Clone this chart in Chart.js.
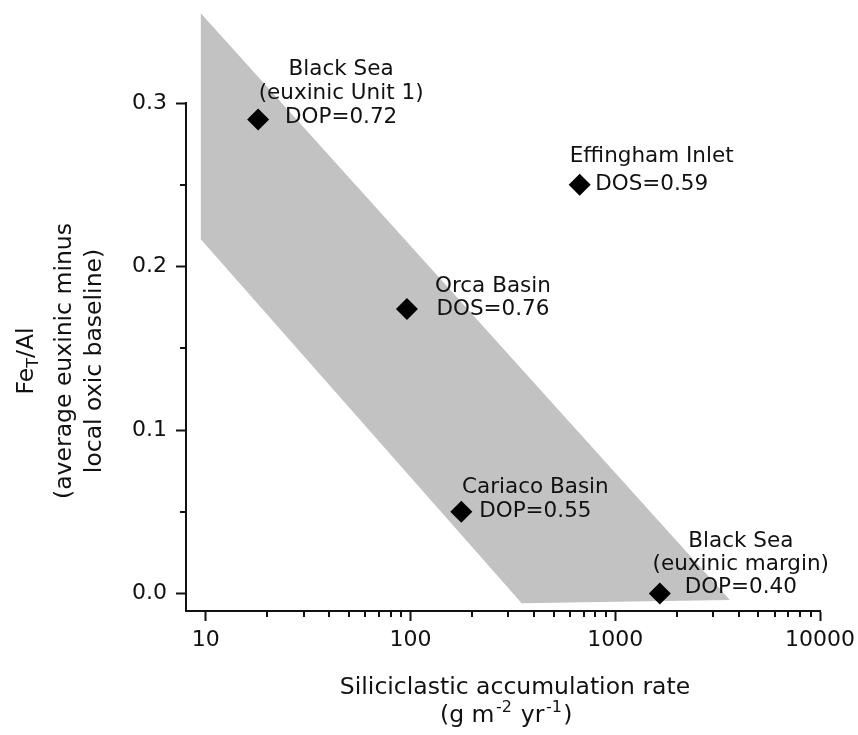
<!DOCTYPE html>
<html><head><meta charset="utf-8">
<script src="https://cdn.jsdelivr.net/npm/chart.js@4.4.1/dist/chart.umd.min.js"></script>
<style>html,body{margin:0;padding:0;background:#fff;}</style>
</head><body>
<canvas id="c" width="858" height="735"></canvas>
<script>
// ---- data ----
const siteNames = ['Black Sea (euxinic Unit 1)', 'Effingham Inlet', 'Orca Basin', 'Cariaco Basin', 'Black Sea (euxinic margin)'];
const accumulationRate = [18, 670, 96, 177, 1650];
const feAlExcess = [0.29, 0.25, 0.174, 0.05, 0.0];
const siteLabels = [
  ['Black Sea', '(euxinic Unit 1)', 'DOP=0.72'],
  ['Effingham Inlet', 'DOS=0.59'],
  ['Orca Basin', 'DOS=0.76'],
  ['Cariaco Basin', 'DOP=0.55'],
  ['Black Sea', '(euxinic margin)', 'DOP=0.40']
];
const bandRate = [3630, 349, 9.4, 9.45];
const bandFeAl = [-0.004, -0.006, 0.217, 0.355];
const xMajorTicks = [10, 100, 1000, 10000];
const xMinorTicks = [20, 30, 40, 50, 60, 70, 80, 90, 200, 300, 400, 500, 600, 700, 800, 900, 2000, 3000, 4000, 5000, 6000, 7000, 8000, 9000];
const yMajorTicks = [0, 0.1, 0.2, 0.3];
const yMinorTicks = [0.05, 0.15, 0.25];
const xTitle = ['Siliciclastic accumulation rate', ['(g m', '-2', ' yr', '-1', ')']];
const yTitle = [['Fe', 'T', '/Al'], '(average euxinic minus', 'local oxic baseline)'];

// ---- layout / style (not data) ----
const INK = '#111';
const FONT = '"DejaVu Sans", sans-serif';
const labelLayout = [
  {dx: 83, lastDy: -2, gap: 24},
  {dx: 72, lastDy: 0, gap: 28},
  {dx: 86, lastDy: 0, gap: 23},
  {dx: 74, lastDy: 0, gap: 24},
  {dx: 81, lastDy: -6, gap: 23}
];

const pointData = accumulationRate.map((v, i) => ({x: v, y: feAlExcess[i]}));
const bandData = bandRate.map((v, i) => ({x: v, y: bandFeAl[i]}));

const decor = {
  id: 'decor',
  afterDatasetsDraw(chart) {
    const {ctx, scales: {x, y}} = chart;
    ctx.save();
    ctx.fillStyle = INK;
    ctx.font = '21.5px ' + FONT;
    ctx.textAlign = 'center';
    ctx.textBaseline = 'middle';
    siteLabels.forEach((lines, i) => {
      const px = x.getPixelForValue(accumulationRate[i]);
      const py = y.getPixelForValue(feAlExcess[i]);
      const L = labelLayout[i];
      const n = lines.length;
      lines.forEach((t, j) => {
        ctx.fillText(t, px + L.dx, py + L.lastDy - (n - 1 - j) * L.gap);
      });
    });
    ctx.restore();
  },
  afterDraw(chart) {
    const {ctx, scales: {x, y}, chartArea} = chart;
    ctx.save();
    ctx.strokeStyle = INK;
    ctx.lineWidth = 2;
    const yTop = Math.round(y.getPixelForValue(yMajorTicks[yMajorTicks.length - 1]));
    ctx.beginPath();
    ctx.moveTo(chartArea.left, yTop - 1);
    ctx.lineTo(chartArea.left, chartArea.bottom + 1);
    ctx.stroke();
    ctx.beginPath();
    xMinorTicks.forEach(v => {
      const px = Math.round(x.getPixelForValue(v));
      ctx.moveTo(px, chartArea.bottom);
      ctx.lineTo(px, chartArea.bottom + 6);
    });
    yMinorTicks.forEach(v => {
      const py = Math.round(y.getPixelForValue(v));
      ctx.moveTo(chartArea.left, py);
      ctx.lineTo(chartArea.left - 6, py);
    });
    ctx.stroke();

    ctx.fillStyle = INK;
    const big = '23.5px ' + FONT, small = '16px ' + FONT;
    ctx.textBaseline = 'middle';
    ctx.textAlign = 'center';
    ctx.font = big;
    ctx.fillText(xTitle[0], 515, 688);
    const parts = xTitle[1];
    const widths = parts.map((p, k) => { ctx.font = (k % 2 === 1) ? small : big; return ctx.measureText(p).width + 1.5; });
    const w = widths.reduce((a, b) => a + b, 0);
    let sx = 507 - w / 2;
    ctx.textAlign = 'left';
    ctx.textBaseline = 'alphabetic';
    const base2 = 722;
    parts.forEach((p, k) => {
      const sup = k % 2 === 1;
      ctx.font = sup ? small : big;
      ctx.fillText(p, sx, sup ? base2 - 10 : base2);
      sx += widths[k];
    });

    const cy = 361;
    const baselines = [33, 71, 101];
    yTitle.forEach((line, k) => {
      ctx.save();
      ctx.translate(baselines[k], cy);
      ctx.rotate(-Math.PI / 2);
      ctx.textBaseline = 'alphabetic';
      if (Array.isArray(line)) {
        const fonts = [big, small, big];
        const ws = line.map((p, m) => { ctx.font = fonts[m]; return ctx.measureText(p).width; });
        const tw = ws.reduce((a, b) => a + b, 0);
        let tx = -tw / 2;
        ctx.textAlign = 'left';
        line.forEach((p, m) => {
          ctx.font = fonts[m];
          ctx.fillText(p, tx, m === 1 ? 5 : 0);
          tx += ws[m];
        });
      } else {
        ctx.font = big;
        ctx.textAlign = 'center';
        ctx.fillText(line, 0, 0);
      }
      ctx.restore();
    });
    ctx.restore();
  }
};

new Chart(document.getElementById('c'), {
  type: 'scatter',
  data: {
    datasets: [
      {
        label: 'Sites',
        data: pointData,
        pointStyle: 'rectRot',
        pointRadius: 11,
        pointHoverRadius: 11,
        backgroundColor: '#000',
        borderColor: '#000',
        borderWidth: 0,
        showLine: false
      },
      {
        type: 'line',
        label: 'Band',
        data: bandData,
        fill: 'shape',
        backgroundColor: '#c2c2c2',
        borderColor: 'rgba(0,0,0,0)',
        borderWidth: 0,
        pointRadius: 0,
        pointHoverRadius: 0,
        tension: 0
      }
    ]
  },
  options: {
    responsive: false,
    animation: false,
    events: [],
    layout: {autoPadding: false, padding: {top: 5, right: 38, left: 0, bottom: 0}},
    plugins: {legend: {display: false}, tooltip: {enabled: false}},
    scales: {
      x: {
        type: 'logarithmic',
        min: 8,
        max: 10000,
        afterBuildTicks(scale) { scale.ticks = xMajorTicks.map(v => ({value: v, major: true})); },
        afterFit(scale) { scale.height = 124; scale.paddingLeft = 0; scale.paddingRight = 0; scale.paddingTop = 0; scale.paddingBottom = 0; },
        ticks: {
          color: INK,
          font: {family: '"DejaVu Sans"', size: 22},
          padding: 6,
          maxRotation: 0,
          autoSkip: false,
          callback: v => String(v)
        },
        grid: {display: true, drawOnChartArea: false, drawTicks: true, tickLength: 10, tickWidth: 2, tickColor: INK},
        border: {display: true, width: 2, color: INK},
        title: {display: false}
      },
      y: {
        type: 'linear',
        min: -0.0107,
        max: 0.36,
        afterBuildTicks(scale) { scale.ticks = yMajorTicks.map(v => ({value: v})); },
        afterFit(scale) { scale.width = 186; scale.paddingLeft = 0; scale.paddingRight = 0; scale.paddingTop = 0; scale.paddingBottom = 0; },
        ticks: {
          color: INK,
          font: {family: '"DejaVu Sans"', size: 22},
          padding: 9,
          autoSkip: false,
          callback: v => Number(v).toFixed(1)
        },
        grid: {display: true, drawOnChartArea: false, drawTicks: true, tickLength: 10, tickWidth: 2, tickColor: INK},
        border: {display: false},
        title: {display: false}
      }
    }
  },
  plugins: [decor]
});
</script>
</body></html>
